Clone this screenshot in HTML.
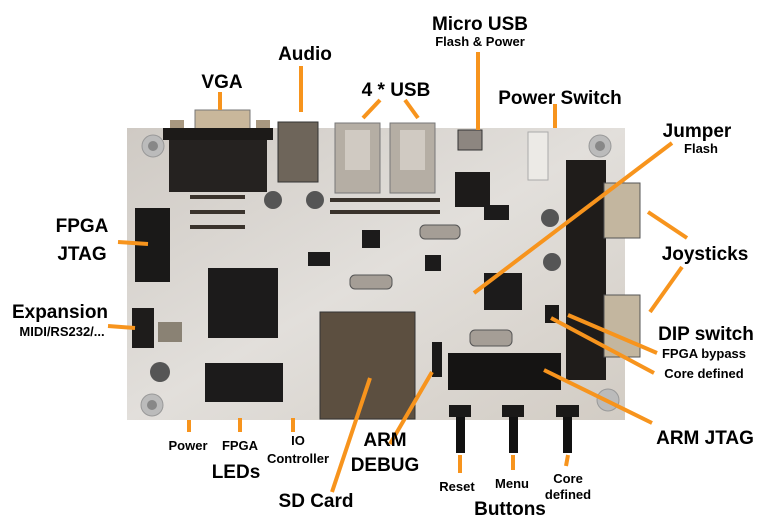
<!DOCTYPE html>
<html><head><meta charset="utf-8"><style>
html,body{margin:0;padding:0;background:#fff;}
svg{display:block}
text{font-family:"Liberation Sans Narrow","Liberation Sans",sans-serif;font-weight:bold;fill:#000;text-anchor:middle}
.b{font-size:19px}.s{font-size:13px}
.o{stroke:#f7941d;stroke-width:4;fill:none}
</style></head><body>
<svg width="763" height="522" viewBox="0 0 763 522">
<defs><linearGradient id="pcb" x1="0" y1="0" x2="1" y2="1"><stop offset="0" stop-color="#cfcac4"/><stop offset="0.5" stop-color="#e2dfdb"/><stop offset="1" stop-color="#d2ccc4"/></linearGradient></defs>
<rect x="127" y="128" width="498" height="292" fill="url(#pcb)"/>
<circle cx="153" cy="146" r="11" fill="#bbb" stroke="#999"/><circle cx="153" cy="146" r="5" fill="#888"/>
<circle cx="600" cy="146" r="11" fill="#bbb" stroke="#999"/><circle cx="600" cy="146" r="5" fill="#888"/>
<circle cx="152" cy="405" r="11" fill="#bbb" stroke="#999"/><circle cx="152" cy="405" r="5" fill="#888"/>
<circle cx="608" cy="400" r="11" fill="#bbb" stroke="#999"/>
<rect x="195" y="110" width="55" height="22" fill="#c9b79b" stroke="#777"/>
<rect x="170" y="120" width="14" height="18" fill="#a89880"/><rect x="256" y="120" width="14" height="18" fill="#a89880"/>
<rect x="163" y="128" width="110" height="12" fill="#1c1a18"/>
<rect x="169" y="140" width="98" height="52" fill="#252220"/>
<rect x="278" y="122" width="40" height="60" fill="#6e655a" stroke="#333"/>
<rect x="335" y="123" width="45" height="70" fill="#b5aea4" stroke="#777"/>
<rect x="390" y="123" width="45" height="70" fill="#b5aea4" stroke="#777"/>
<rect x="345" y="130" width="25" height="40" fill="#d0cac2"/><rect x="400" y="130" width="25" height="40" fill="#d0cac2"/>
<rect x="458" y="130" width="24" height="20" fill="#8d8680" stroke="#333"/>
<rect x="455" y="172" width="35" height="35" fill="#1d1b1a"/>
<rect x="528" y="132" width="20" height="48" fill="#eceae6" stroke="#aaa"/>
<rect x="566" y="160" width="40" height="220" fill="#1f1c1a"/>
<rect x="604" y="183" width="36" height="55" fill="#c3b69f" stroke="#555"/>
<rect x="604" y="295" width="36" height="62" fill="#c3b69f" stroke="#555"/>
<rect x="135" y="208" width="35" height="74" fill="#1a1918"/>
<rect x="132" y="308" width="22" height="40" fill="#1e1c1b"/>
<rect x="208" y="268" width="70" height="70" fill="#1c1b1b"/>
<rect x="205" y="363" width="78" height="39" fill="#1c1b1b"/>
<rect x="362" y="230" width="18" height="18" fill="#1c1b1b"/>
<rect x="425" y="255" width="16" height="16" fill="#1c1b1b"/>
<rect x="484" y="273" width="38" height="37" fill="#1c1b1b"/>
<rect x="308" y="252" width="22" height="14" fill="#1c1b1b"/>
<rect x="484" y="205" width="25" height="15" fill="#1c1b1b"/>
<rect x="158" y="322" width="24" height="20" fill="#8a8274"/>
<rect x="420" y="225" width="40" height="14" rx="5" fill="#a59e96" stroke="#555"/>
<rect x="350" y="275" width="42" height="14" rx="5" fill="#a59e96" stroke="#555"/>
<rect x="470" y="330" width="42" height="16" rx="5" fill="#a59e96" stroke="#555"/>
<circle cx="273" cy="200" r="9" fill="#555"/><circle cx="315" cy="200" r="9" fill="#555"/><circle cx="160" cy="372" r="10" fill="#555"/><circle cx="550" cy="218" r="9" fill="#555"/><circle cx="552" cy="262" r="9" fill="#555"/>
<rect x="320" y="312" width="95" height="107" fill="#5c4f40" stroke="#333"/>
<rect x="432" y="342" width="10" height="35" fill="#1a1918"/>
<rect x="448" y="353" width="113" height="37" fill="#151413"/>
<rect x="545" y="305" width="14" height="18" fill="#1a1918"/>
<rect x="449" y="405" width="22" height="12" fill="#1a1918"/><rect x="502" y="405" width="22" height="12" fill="#1a1918"/><rect x="556" y="405" width="23" height="12" fill="#1a1918"/>
<rect x="456" y="417" width="9" height="36" fill="#111"/><rect x="509" y="417" width="9" height="36" fill="#111"/><rect x="563" y="417" width="9" height="36" fill="#111"/>
<g fill="#3a332c"><rect x="190" y="195" width="55" height="4"/><rect x="190" y="210" width="55" height="4"/><rect x="190" y="225" width="55" height="4"/><rect x="330" y="198" width="110" height="4"/><rect x="330" y="210" width="110" height="4"/></g>
<g class="o">
<line x1="220" y1="92" x2="220" y2="110"/>
<line x1="301" y1="66" x2="301" y2="112"/>
<line x1="380" y1="100" x2="363" y2="118"/><line x1="405" y1="100" x2="418" y2="118"/>
<line x1="478" y1="52" x2="478" y2="130"/>
<line x1="555" y1="104" x2="555" y2="128"/>
<line x1="672" y1="143" x2="474" y2="293"/>
<line x1="648" y1="212" x2="687" y2="238"/>
<line x1="682" y1="267" x2="650" y2="312"/>
<line x1="568" y1="315" x2="657" y2="353"/>
<line x1="551" y1="318" x2="654" y2="373"/>
<line x1="544" y1="370" x2="652" y2="423"/>
<line x1="432" y1="372" x2="390" y2="444"/>
<line x1="370" y1="378" x2="332" y2="492"/>
<line x1="118" y1="242" x2="148" y2="244"/>
<line x1="108" y1="326" x2="135" y2="328"/>
<line x1="189" y1="420" x2="189" y2="432"/><line x1="240" y1="418" x2="240" y2="432"/><line x1="293" y1="418" x2="293" y2="432"/>
<line x1="460" y1="455" x2="460" y2="473"/><line x1="513" y1="455" x2="513" y2="470"/><line x1="568" y1="455" x2="566" y2="466"/>
</g>
<text class="b" x="222" y="88">VGA</text>
<text class="b" x="305" y="60">Audio</text>
<text class="b" x="396" y="96">4 * USB</text>
<text class="b" x="480" y="30">Micro USB</text>
<text class="s" x="480" y="46">Flash &amp; Power</text>
<text class="b" x="560" y="104">Power Switch</text>
<text class="b" x="697" y="137">Jumper</text>
<text class="s" x="701" y="153">Flash</text>
<text class="b" x="705" y="260">Joysticks</text>
<text class="b" x="706" y="340">DIP switch</text>
<text class="s" x="704" y="358">FPGA bypass</text>
<text class="s" x="704" y="378">Core defined</text>
<text class="b" x="705" y="444">ARM JTAG</text>
<text class="b" x="385" y="446">ARM</text>
<text class="b" x="385" y="471">DEBUG</text>
<text class="b" x="316" y="507">SD Card</text>
<text class="b" x="510" y="515">Buttons</text>
<text class="s" x="457" y="491">Reset</text>
<text class="s" x="512" y="488">Menu</text>
<text class="s" x="568" y="483">Core</text>
<text class="s" x="568" y="499">defined</text>
<text class="b" x="236" y="478">LEDs</text>
<text class="s" x="188" y="450">Power</text>
<text class="s" x="240" y="450">FPGA</text>
<text class="s" x="298" y="445">IO</text>
<text class="s" x="298" y="463">Controller</text>
<text class="b" x="82" y="232">FPGA</text>
<text class="b" x="82" y="260">JTAG</text>
<text class="b" x="60" y="318">Expansion</text>
<text class="s" x="62" y="336">MIDI/RS232/...</text>
</svg>
</body></html>
